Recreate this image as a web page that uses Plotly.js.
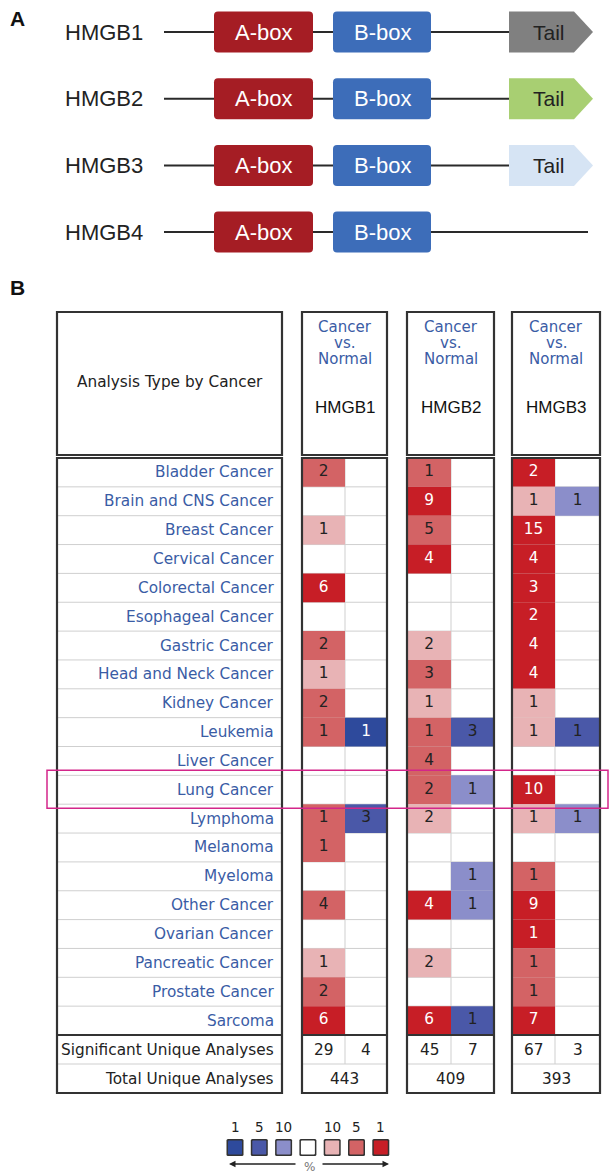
<!DOCTYPE html>
<html>
<head>
<meta charset="utf-8">
<script src="https://cdn.plot.ly/plotly-3.0.1.min.js"></script>
<style>
  body { margin: 0; background: #fff; }
  #chart { width: 616px; height: 1173px; }
</style>
</head>
<body>
<div id="chart"></div>
<script>
// Panel A: domain structure
const proteins = ["HMGB1", "HMGB2", "HMGB3", "HMGB4"];
const tailColors = ["#808080", "#a8cf72", "#d6e4f4", null];

// Panel B: Oncomine counts (up = red, down = blue), shade 1 = top 10%, 2 = top 5%, 3 = top 1%
const cancerTypes = [
  "Bladder Cancer", "Brain and CNS Cancer", "Breast Cancer", "Cervical Cancer",
  "Colorectal Cancer", "Esophageal Cancer", "Gastric Cancer", "Head and Neck Cancer",
  "Kidney Cancer", "Leukemia", "Liver Cancer", "Lung Cancer", "Lymphoma", "Melanoma",
  "Myeloma", "Other Cancer", "Ovarian Cancer", "Pancreatic Cancer", "Prostate Cancer", "Sarcoma"
];
const genes = ["HMGB1", "HMGB2", "HMGB3"];

const hmgb1Up        = [2, 0, 1, 0, 6, 0, 2, 1, 2, 1, 0, 0, 1, 1, 0, 4, 0, 1, 2, 6];
const hmgb1UpShade   = [2, 0, 1, 0, 3, 0, 2, 1, 2, 2, 0, 0, 2, 2, 0, 2, 0, 1, 2, 3];
const hmgb1Down      = [0, 0, 0, 0, 0, 0, 0, 0, 0, 1, 0, 0, 3, 0, 0, 0, 0, 0, 0, 0];
const hmgb1DownShade = [0, 0, 0, 0, 0, 0, 0, 0, 0, 3, 0, 0, 2, 0, 0, 0, 0, 0, 0, 0];

const hmgb2Up        = [1, 9, 5, 4, 0, 0, 2, 3, 1, 1, 4, 2, 2, 0, 0, 4, 0, 2, 0, 6];
const hmgb2UpShade   = [2, 3, 2, 3, 0, 0, 1, 2, 1, 2, 2, 2, 1, 0, 0, 3, 0, 1, 0, 3];
const hmgb2Down      = [0, 0, 0, 0, 0, 0, 0, 0, 0, 3, 0, 1, 0, 0, 1, 1, 0, 0, 0, 1];
const hmgb2DownShade = [0, 0, 0, 0, 0, 0, 0, 0, 0, 2, 0, 1, 0, 0, 1, 1, 0, 0, 0, 2];

const hmgb3Up        = [2, 1, 15, 4, 3, 2, 4, 4, 1, 1, 0, 10, 1, 0, 1, 9, 1, 1, 1, 7];
const hmgb3UpShade   = [3, 1, 3, 3, 3, 3, 3, 3, 1, 1, 0, 3, 1, 0, 2, 3, 3, 2, 2, 3];
const hmgb3Down      = [0, 1, 0, 0, 0, 0, 0, 0, 0, 1, 0, 0, 1, 0, 0, 0, 0, 0, 0, 0];
const hmgb3DownShade = [0, 1, 0, 0, 0, 0, 0, 0, 0, 2, 0, 0, 1, 0, 0, 0, 0, 0, 0, 0];

const significantUp = [29, 45, 67];
const significantDown = [4, 7, 3];
const totalAnalyses = [443, 409, 393];

const legendLabels = ["1", "5", "10", "", "10", "5", "1"];

const upCounts = [hmgb1Up, hmgb2Up, hmgb3Up];
const upShades = [hmgb1UpShade, hmgb2UpShade, hmgb3UpShade];
const downCounts = [hmgb1Down, hmgb2Down, hmgb3Down];
const downShades = [hmgb1DownShade, hmgb2DownShade, hmgb3DownShade];

const redShades = [null, "#e8b3b5", "#d36365", "#c71e26"];
const blueShades = [null, "#8b8eca", "#4a58a8", "#2e4a9c"];
const labelBlue = "#3a5ca5";
const dark = "#222";
const border = "#333";
const grid = "#cfcfcf";
const tableFont = "DejaVu Sans, Verdana, sans-serif";
const tableSize = 15.3;

const shapes = [];
const annotations = [];

function text(x, y, str, opts = {}) {
  annotations.push({
    x: x, y: y, xref: "x", yref: "y", text: str, showarrow: false,
    xanchor: opts.xanchor || "center", yanchor: "middle",
    font: { family: opts.family || tableFont, size: opts.size || tableSize, color: opts.color || dark }
  });
}
function rect(x0, y0, x1, y1, fill, lineColor, lineWidth, layer) {
  shapes.push({
    type: "rect", xref: "x", yref: "y", x0: x0, y0: y0, x1: x1, y1: y1,
    layer: layer || "above",
    fillcolor: fill || "rgba(0,0,0,0)",
    line: { color: lineColor || "rgba(0,0,0,0)", width: lineWidth || 0 }
  });
}
function line(x0, y0, x1, y1, color, width, layer) {
  shapes.push({ type: "line", xref: "x", yref: "y", layer: layer || "above", x0: x0, y0: y0, x1: x1, y1: y1, line: { color: color, width: width } });
}
function roundBox(x0, y0, x1, y1, r, fill) {
  const path = `M${x0 + r},${y0} H${x1 - r} Q${x1},${y0} ${x1},${y0 + r} V${y1 - r} Q${x1},${y1} ${x1 - r},${y1} ` +
    `H${x0 + r} Q${x0},${y1} ${x0},${y1 - r} V${y0 + r} Q${x0},${y0} ${x0 + r},${y0} Z`;
  shapes.push({ type: "path", xref: "x", yref: "y", path: path, fillcolor: fill, line: { width: 0 } });
}

// ---------- Panel A ----------
text(8, 18, "<b>A</b>", { family: "Liberation Sans, Arial", size: 21, color: "#111", xanchor: "left" });
proteins.forEach((name, i) => {
  const yc = 32 + i * 66.7;
  text(63, yc, name, { family: "Liberation Sans, Arial", size: 22, color: dark, xanchor: "left" });
  const lineEnd = tailColors[i] ? 509 : 588;
  line(164, yc, lineEnd, yc, "#2a2a2a", 2);
  roundBox(214, yc - 20.5, 313, yc + 20.5, 4, "#a51d24");
  roundBox(333, yc - 20.5, 431, yc + 20.5, 4, "#3d6db9");
  text(263.5, yc, "A-box", { family: "Liberation Sans, Arial", size: 22, color: "#fff" });
  text(382, yc, "B-box", { family: "Liberation Sans, Arial", size: 22, color: "#fff" });
  if (tailColors[i]) {
    shapes.push({
      type: "path", xref: "x", yref: "y",
      path: `M509,${yc - 20.5} H574 L593,${yc} L574,${yc + 20.5} H509 Z`,
      fillcolor: tailColors[i], line: { width: 0 }
    });
    text(549, yc, "Tail", { family: "Liberation Sans, Arial", size: 21, color: dark });
  }
});

// ---------- Panel B ----------
text(8, 287, "<b>B</b>", { family: "Liberation Sans, Arial", size: 21, color: "#111", xanchor: "left" });

const headTop = 312, headBottom = 455;
const rowTop = 458, rowH = 28.85;
const bodyBottom = rowTop + cancerTypes.length * rowH;
const sigBottom = bodyBottom + 29;
const tableBottom = sigBottom + 29;
const labelBox = { x0: 57, x1: 282 };
const geneCols = [
  { x0: 302, mid: 345, x1: 387 },
  { x0: 407, mid: 451, x1: 494 },
  { x0: 512, mid: 555, x1: 600 }
];

// header
text((labelBox.x0 + labelBox.x1) / 2, 382, "Analysis Type by Cancer");
geneCols.forEach((c, g) => {
  const cx = (c.x0 + c.x1) / 2;
  text(cx, 327, "Cancer", { size: 15, color: labelBlue });
  text(cx, 343, "vs.", { size: 15, color: labelBlue });
  text(cx, 359, "Normal", { size: 15, color: labelBlue });
  text(cx, 407, genes[g], { family: "Liberation Sans, Arial", size: 17, color: "#111" });
});

// row grid lines (under the count text)
for (let i = 1; i <= cancerTypes.length + 1; i++) {
  if (i === cancerTypes.length) continue;
  const yy = i > cancerTypes.length ? sigBottom : rowTop + i * rowH;
  line(labelBox.x0, yy, labelBox.x1, yy, grid, 1, "below");
  geneCols.forEach((c) => line(c.x0, yy, c.x1, yy, grid, 1, "below"));
}
geneCols.forEach((c) => line(c.mid, rowTop, c.mid, sigBottom, grid, 1, "below"));

// coloured cells
geneCols.forEach((c, g) => {
  cancerTypes.forEach((_, i) => {
    const y0 = rowTop + i * rowH, y1 = y0 + rowH;
    if (upShades[g][i]) rect(c.x0, y0, c.mid, y1, redShades[upShades[g][i]], null, 0, "below");
    if (downShades[g][i]) rect(c.mid, y0, c.x1, y1, blueShades[downShades[g][i]], null, 0, "below");
  });
});

// row labels
cancerTypes.forEach((name, i) => {
  text(276, rowTop + (i + 0.5) * rowH, name, { color: labelBlue, xanchor: "right" });
});
text(276, bodyBottom + 14.5, "Significant Unique Analyses", { xanchor: "right" });
text(276, sigBottom + 14.5, "Total Unique Analyses", { xanchor: "right" });
geneCols.forEach((c, g) => {
  text((c.x0 + c.mid) / 2, bodyBottom + 14.5, String(significantUp[g]));
  text((c.mid + c.x1) / 2, bodyBottom + 14.5, String(significantDown[g]));
  text((c.x0 + c.x1) / 2, sigBottom + 14.5, String(totalAnalyses[g]));
});

// thick borders
[labelBox, ...geneCols].forEach((c) => {
  rect(c.x0, headTop, c.x1, headBottom, null, border, 2.2);
  rect(c.x0, rowTop, c.x1, tableBottom, null, border, 2.2);
  line(c.x0, bodyBottom, c.x1, bodyBottom, border, 2.2);
});

// highlight for lung cancer
const lungIdx = cancerTypes.indexOf("Lung Cancer");
rect(47, rowTop + lungIdx * rowH - 5, 608, rowTop + (lungIdx + 1) * rowH + 4, null, "#d3268a", 1.5);

// legend
const legendColors = [blueShades[3], blueShades[2], blueShades[1], "#ffffff", redShades[1], redShades[2], redShades[3]];
legendColors.forEach((col, k) => {
  const cx = 235 + k * 24.3;
  roundBox(cx - 8.5, 1139, cx + 8.5, 1156, 1.5, "#333");
  roundBox(cx - 7, 1140.5, cx + 7, 1154.5, 1, col);
  if (legendLabels[k]) text(cx, 1127, legendLabels[k], { size: 13.5 });
});
annotations.push({
  x: 229, y: 1164, ax: 297, ay: 1164, xref: "x", yref: "y", axref: "x", ayref: "y",
  text: "", showarrow: true, arrowhead: 2, arrowsize: 1, arrowwidth: 1.3, arrowcolor: dark
});
annotations.push({
  x: 389, y: 1164, ax: 321, ay: 1164, xref: "x", yref: "y", axref: "x", ayref: "y",
  text: "", showarrow: true, arrowhead: 2, arrowsize: 1, arrowwidth: 1.3, arrowcolor: dark
});
text(309, 1167, "%", { size: 12, color: "#777" });

// count numbers as text traces
const traces = [];
geneCols.forEach((c, g) => {
  const ys = cancerTypes.map((_, i) => rowTop + (i + 0.5) * rowH);
  [[upCounts[g], upShades[g], (c.x0 + c.mid) / 2], [downCounts[g], downShades[g], (c.mid + c.x1) / 2]].forEach(([counts, shades, x]) => {
    traces.push({
      type: "scatter", mode: "text",
      x: counts.map(() => x), y: ys,
      text: counts.map((v) => (v ? String(v) : "")),
      textposition: "middle center",
      textfont: { family: tableFont, size: tableSize, color: shades.map((s) => (s === 3 ? "#fff" : dark)) },
      hoverinfo: "skip", showlegend: false
    });
  });
});

const layout = {
  width: 616, height: 1173,
  margin: { l: 0, r: 0, t: 0, b: 0 },
  paper_bgcolor: "#fff", plot_bgcolor: "#fff",
  xaxis: { range: [0, 616], visible: false, fixedrange: true },
  yaxis: { range: [1173, 0], visible: false, fixedrange: true },
  shapes: shapes,
  annotations: annotations,
  showlegend: false
};

Plotly.newPlot("chart", traces, layout, { staticPlot: true, displayModeBar: false });
</script>
</body>
</html>
